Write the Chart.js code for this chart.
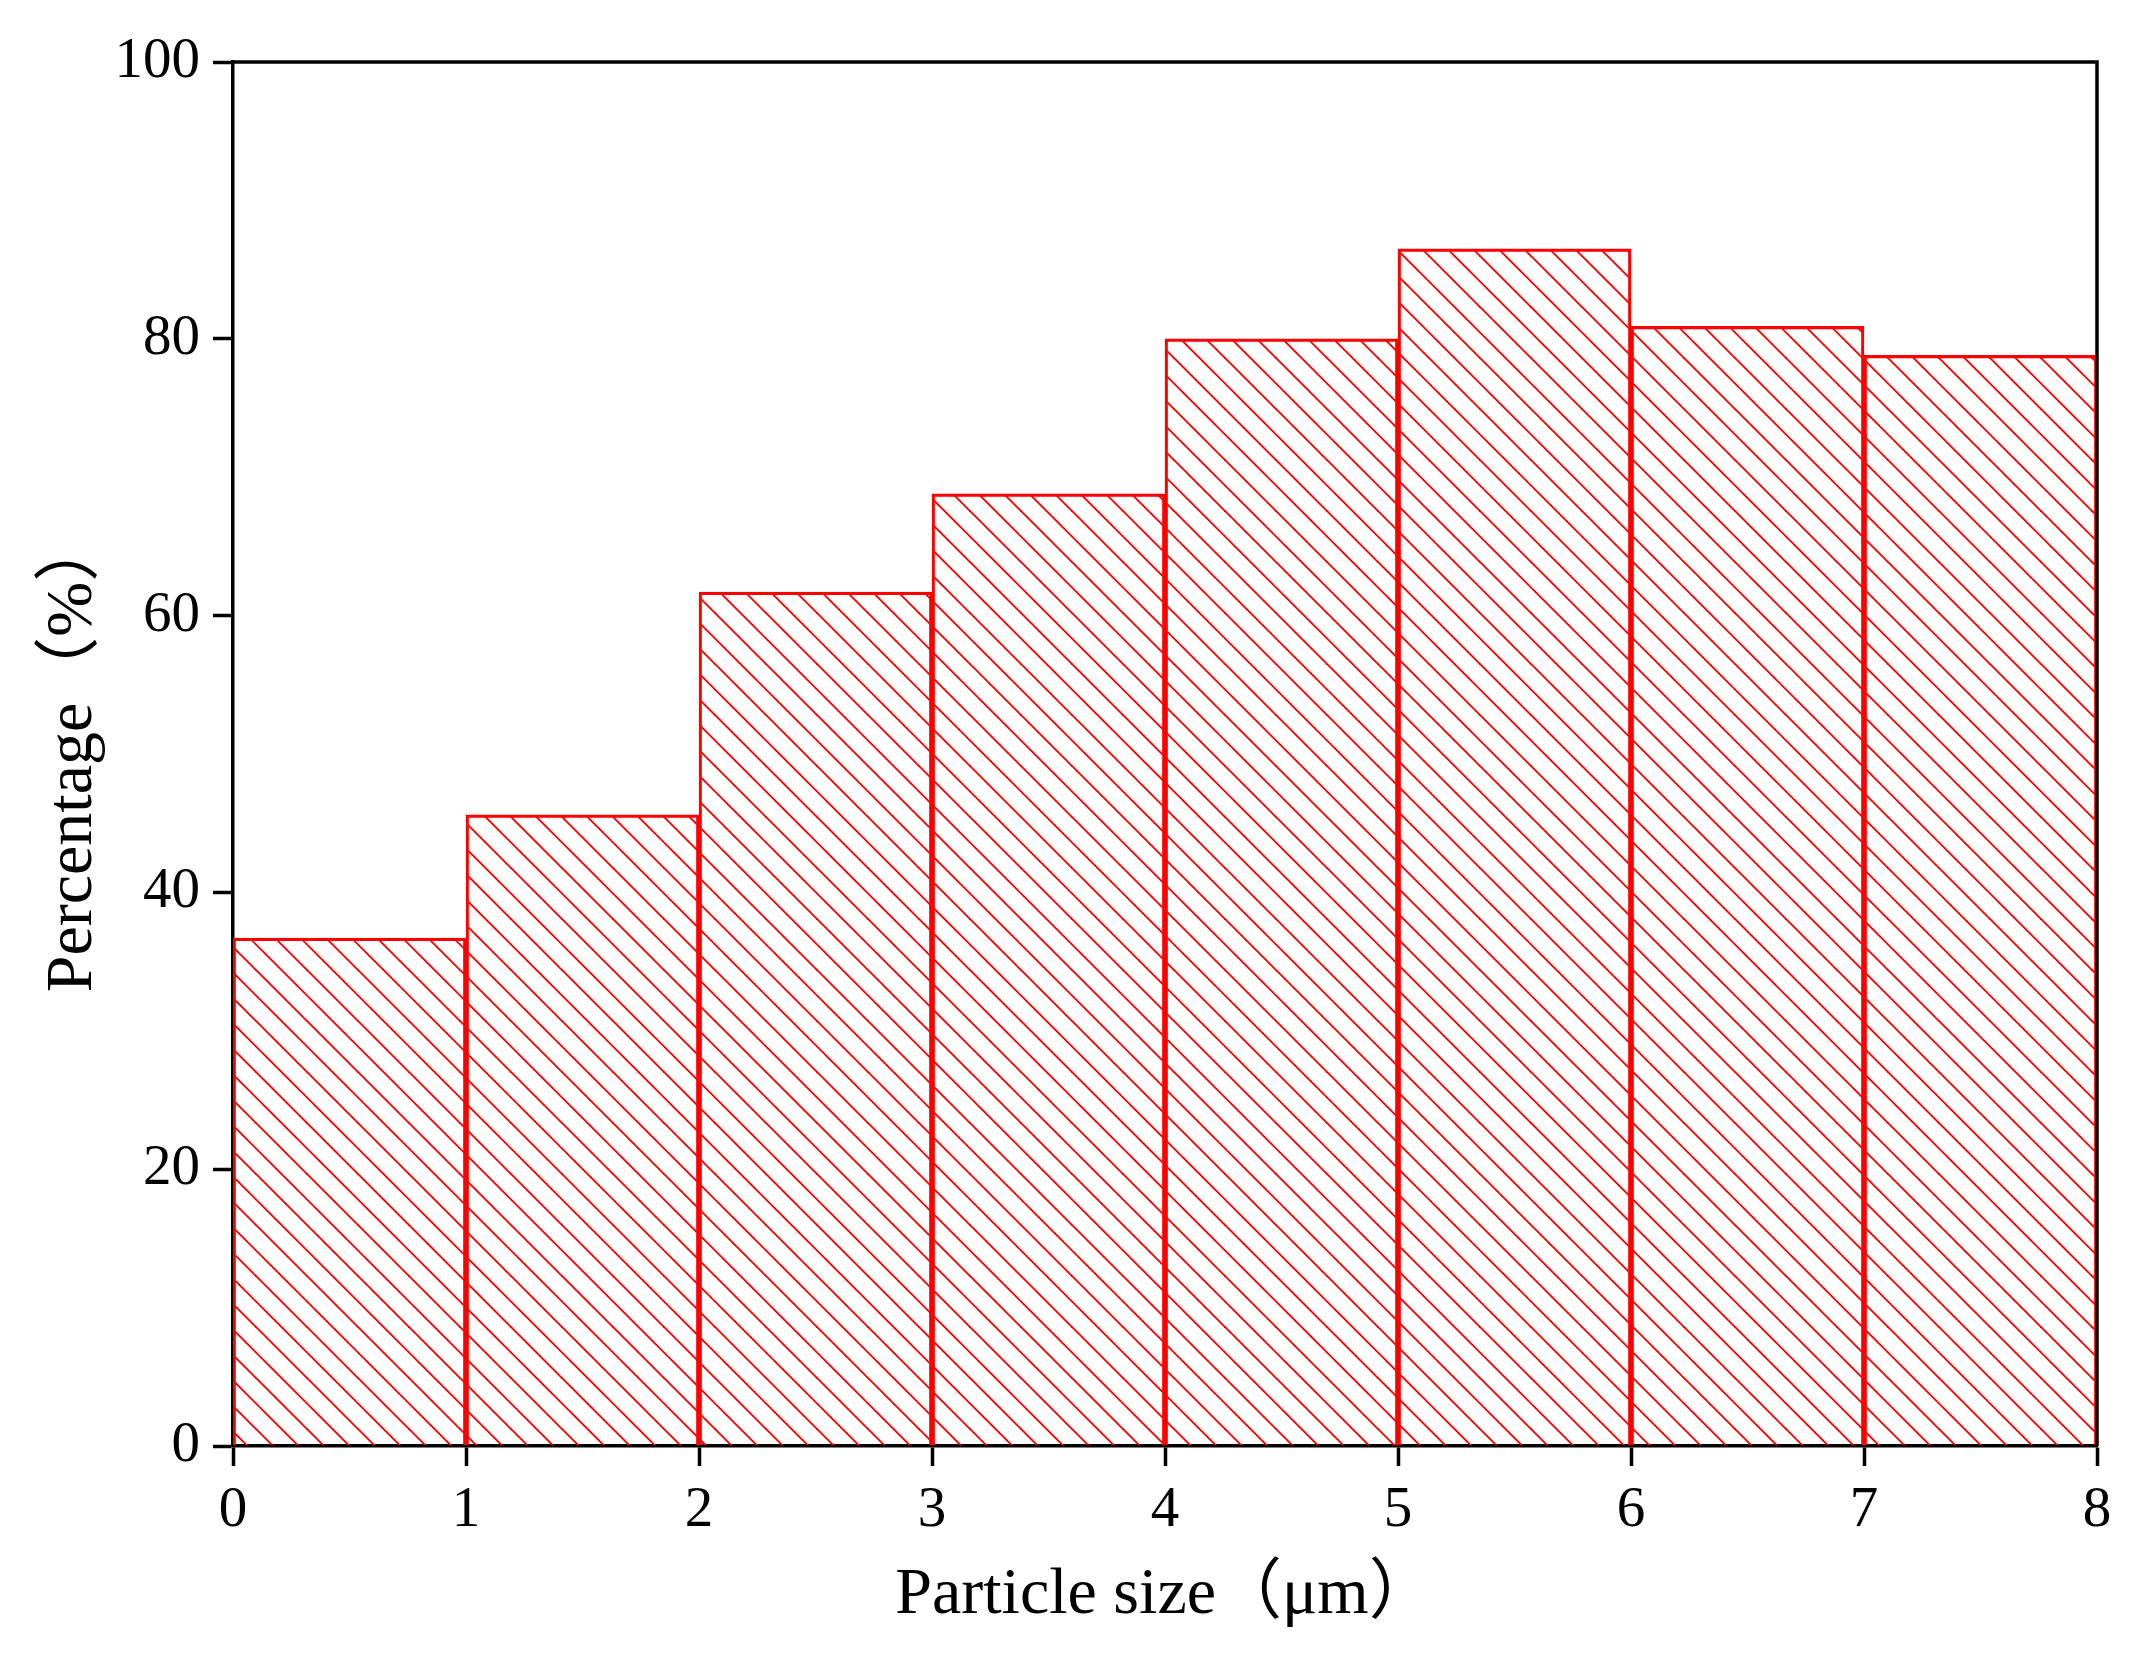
<!DOCTYPE html>
<html>
<head>
<meta charset="utf-8">
<script src="https://cdn.jsdelivr.net/npm/chart.js@4.4.1/dist/chart.umd.min.js"></script>
<style>
    html, body { margin: 0; padding: 0; background: #fff; }
    #wrap { width: 2149px; height: 1667px; }
</style>
</head>
<body>
<div id="wrap"><canvas id="sizeChart" width="2149" height="1667"></canvas></div>
<script>
// particle size bins (lower edge, um) and their percentages
var binStarts = [0, 1, 2, 3, 4, 5, 6, 7];
var percentages = [36.7, 45.6, 61.7, 68.8, 80.0, 86.5, 80.9, 78.8];
var xTicks = [0, 1, 2, 3, 4, 5, 6, 7, 8];
var yTicks = [0, 20, 40, 60, 80, 100];

var serif = "'Liberation Serif', 'Times New Roman', 'Noto Sans CJK SC', serif";

// red diagonal hatching "\\\"
function makeHatch(ctx) {
    var t = 51;
    var c = document.createElement("canvas");
    c.width = t; c.height = t;
    var g = c.getContext("2d");
    g.strokeStyle = "#ff0000";
    g.lineWidth = 1.9;
    for (var k = -3; k <= 3; k++) {
        var o = k * t / 2;
        g.beginPath();
        g.moveTo(o - t, -t);
        g.lineTo(o + 2 * t, 2 * t);
        g.stroke();
    }
    return ctx.createPattern(c, "repeat");
}

// top and right edges of the box
var framePlugin = {
    id: "frame",
    afterDraw: function (chart) {
        var a = chart.chartArea, ctx = chart.ctx;
        ctx.save();
        ctx.strokeStyle = "#000";
        ctx.lineWidth = 3.5;
        ctx.beginPath();
        ctx.moveTo(a.left, a.top);
        ctx.lineTo(a.right, a.top);
        ctx.lineTo(a.right, a.bottom);
        ctx.stroke();
        ctx.restore();
    }
};

document.addEventListener("DOMContentLoaded", function () {
    var canvas = document.getElementById("sizeChart");
    var ctx = canvas.getContext("2d");

    var points = binStarts.map(function (s, i) {
        return { x: s + 0.5, y: percentages[i] };
    });

    new Chart(ctx, {
        type: "bar",
        data: {
            datasets: [{
                data: points,
                backgroundColor: makeHatch(ctx),
                borderColor: "#ff0000",
                borderWidth: 2.5,
                borderSkipped: "bottom",
                barPercentage: 1,
                categoryPercentage: 1
            }]
        },
        plugins: [framePlugin],
        options: {
            responsive: false,
            animation: false,
            layout: { padding: { top: 62, right: 52, left: 0, bottom: 0 } },
            plugins: {
                legend: { display: false },
                tooltip: { enabled: false }
            },
            scales: {
                x: {
                    type: "linear",
                    min: 0,
                    max: 8,
                    offset: false,
                    z: 1,
                    afterBuildTicks: function (scale) {
                        scale.ticks = xTicks.map(function (v) { return { value: v }; });
                    },
                    afterFit: function (scale) { scale.height = 221; },
                    grid: {
                        offset: false,
                        drawOnChartArea: false,
                        drawTicks: true,
                        tickLength: 20,
                        tickWidth: 3.5,
                        tickColor: "#000"
                    },
                    border: { display: true, color: "#000", width: 3.5 },
                    ticks: {
                        color: "#000",
                        font: { family: serif, size: 57 },
                        padding: 11,
                        maxRotation: 0
                    },
                    title: {
                        display: true,
                        text: "Particle size（μm）",
                        color: "#000",
                        font: { family: serif, size: 66 },
                        padding: { top: 0, bottom: 32 }
                    }
                },
                y: {
                    min: 0,
                    max: 100,
                    z: 1,
                    afterBuildTicks: function (scale) {
                        scale.ticks = yTicks.map(function (v) { return { value: v }; });
                    },
                    afterFit: function (scale) { scale.width = 233; },
                    grid: {
                        drawOnChartArea: false,
                        drawTicks: true,
                        tickLength: 20,
                        tickWidth: 3.5,
                        tickColor: "#000"
                    },
                    border: { display: true, color: "#000", width: 3.5 },
                    ticks: {
                        color: "#000",
                        font: { family: serif, size: 57 },
                        padding: 13
                    },
                    title: {
                        display: true,
                        text: "Percentage（%）",
                        color: "#000",
                        font: { family: serif, size: 66 },
                        padding: { top: 34, bottom: 0 }
                    }
                }
            }
        }
    });
});
</script>
</body>
</html>
